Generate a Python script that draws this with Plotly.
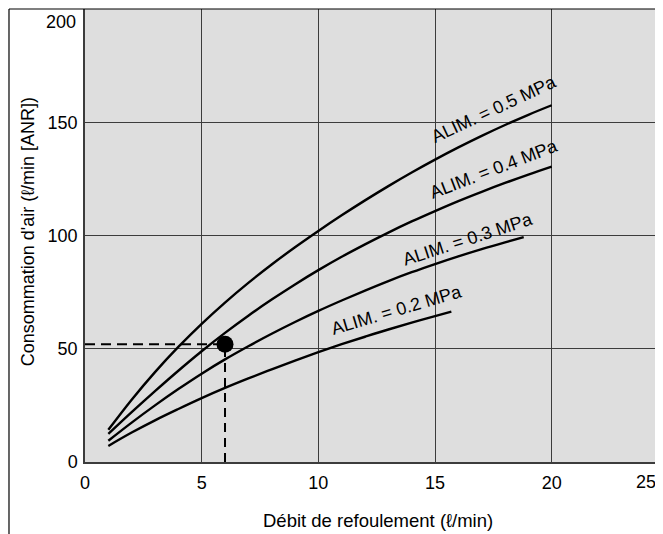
import plotly.graph_objects as go

# ---- data ----
x_02 = [1, 2, 3, 4, 5, 6, 7, 8, 9, 10, 11, 12, 13, 14, 15, 15.7]
y_02 = [7.1, 13, 18.4, 23.4, 28.2, 32.7, 36.9, 40.9, 44.8, 48.5, 52, 55.3, 58.5, 61.5, 64.4, 66.4]

x_03 = [1, 2, 3, 4, 5, 6, 7, 8, 9, 10, 11, 12, 13, 14, 15, 16, 17, 18, 18.8]
y_03 = [9.4, 17.4, 25, 32.2, 39, 45.3, 51.1, 56.6, 61.8, 66.7, 71.3, 75.7, 79.9, 83.8, 87.4, 90.8, 94, 97, 99.3]

x_04 = [1, 2, 3, 4, 5, 6, 7, 8, 9, 10, 11, 12, 13, 14, 15, 16, 17, 18, 19, 20]
y_04 = [12.4, 22, 31.3, 40.3, 48.9, 57, 64.6, 71.7, 78.4, 84.7, 90.6, 96.1, 101.3, 106.2, 110.8, 115.2, 119.3, 123.2, 126.9, 130.4]

x_05 = [1, 2, 3, 4, 5, 6, 7, 8, 9, 10, 11, 12, 13, 14, 15, 16, 17, 18, 19, 20]
y_05 = [14.2, 27.5, 39.7, 50.8, 61, 70.4, 79.1, 87.2, 94.8, 102, 108.9, 115.5, 121.8, 127.8, 133.5, 138.9, 144, 148.8, 153.3, 157.5]

curve_labels = ["ALIM. = 0.2 MPa", "ALIM. = 0.3 MPa", "ALIM. = 0.4 MPa", "ALIM. = 0.5 MPa"]
label_x = [13.36, 16.43, 17.53, 17.53]
label_y = [67, 98.5, 129.5, 156]
label_angle = [-16.5, -18, -21, -25]

example_x = 6
example_y = 52

x_ticks = [0, 5, 10, 15, 20]
y_ticks = [0, 50, 100, 150]
x_title = "Débit de refoulement (ℓ/min)"
y_title = "Consommation d'air (ℓ/min [ANR])"

FONT = "Liberation Sans, Arial, Helvetica, sans-serif"
GRID = "#3c3c3c"

fig = go.Figure()

for xs, ys in [(x_02, y_02), (x_03, y_03), (x_04, y_04), (x_05, y_05)]:
    fig.add_trace(go.Scatter(x=xs, y=ys, mode="lines",
                             line=dict(color="black", width=2.4, shape="spline", smoothing=1),
                             hoverinfo="skip", showlegend=False))

# example guide lines
fig.add_trace(go.Scatter(x=[0, example_x], y=[example_y, example_y], mode="lines",
                         line=dict(color="black", width=2, dash="10px,6px"),
                         showlegend=False, hoverinfo="skip"))
fig.add_trace(go.Scatter(x=[example_x, example_x], y=[0, example_y], mode="lines",
                         line=dict(color="black", width=2, dash="9px,6px"),
                         showlegend=False, hoverinfo="skip"))
fig.add_trace(go.Scatter(x=[example_x], y=[example_y], mode="markers",
                         marker=dict(color="black", size=17),
                         showlegend=False, hoverinfo="skip", cliponaxis=False))

annotations = []
for t, lx, ly, ang in zip(curve_labels, label_x, label_y, label_angle):
    annotations.append(dict(x=lx, y=ly, xref="x", yref="y", text=t, showarrow=False,
                            textangle=ang, font=dict(family=FONT, size=18, color="black"),
                            xanchor="center", yanchor="middle"))

# top / right-most tick labels shifted inward as in the reference
annotations.append(dict(x=0, y=200, xref="paper", yref="y", text="200", showarrow=False,
                        xanchor="right", yanchor="middle", xshift=-7, yshift=-13,
                        font=dict(family=FONT, size=18, color="black")))
annotations.append(dict(x=1, y=0, xref="paper", yref="y", text="25", showarrow=False,
                        xanchor="center", yanchor="middle", xshift=-17, yshift=-20,
                        font=dict(family=FONT, size=18, color="black")))
# axis titles
annotations.append(dict(x=0.507, y=-0.1296, xref="paper", yref="paper", text=x_title,
                        showarrow=False, xanchor="center", yanchor="middle",
                        font=dict(family=FONT, size=18.5, color="black")))
annotations.append(dict(x=-0.0986, y=0.507, xref="paper", yref="paper", text=y_title,
                        showarrow=False, xanchor="center", yanchor="middle", textangle=-90,
                        font=dict(family=FONT, size=18, color="black")))

shapes = [
    dict(type="line", xref="paper", yref="paper", x0=-0.1315, x1=1.01, y0=1, y1=1,
         line=dict(color="black", width=1.2)),
    dict(type="line", xref="paper", yref="paper", x0=-0.1315, x1=-0.1315, y0=1, y1=-0.2,
         line=dict(color="black", width=1.2)),
]

# page body has an 8px margin: figure is 8px smaller and offset
fig.update_layout(
    width=655, height=526,
    margin=dict(l=77, r=0, t=1, b=72),
    paper_bgcolor="white", plot_bgcolor="#dedede",
    font=dict(family=FONT, size=18, color="black"),
    annotations=annotations, shapes=shapes,
    showlegend=False,
    xaxis=dict(range=[0, 24.77], tickvals=x_ticks, showgrid=True, gridcolor=GRID, gridwidth=1.2,
               zeroline=False, showline=True, linecolor=GRID, linewidth=1.5, ticks="",
               tickfont=dict(size=18), ticklabelstandoff=4, fixedrange=True),
    yaxis=dict(range=[0, 200], tickvals=y_ticks, showgrid=True, gridcolor=GRID, gridwidth=1.2,
               zeroline=False, showline=True, linecolor=GRID, linewidth=1.5, ticks="",
               tickfont=dict(size=18), ticklabelstandoff=2, fixedrange=True),
)

fig.write_html("out.html")
